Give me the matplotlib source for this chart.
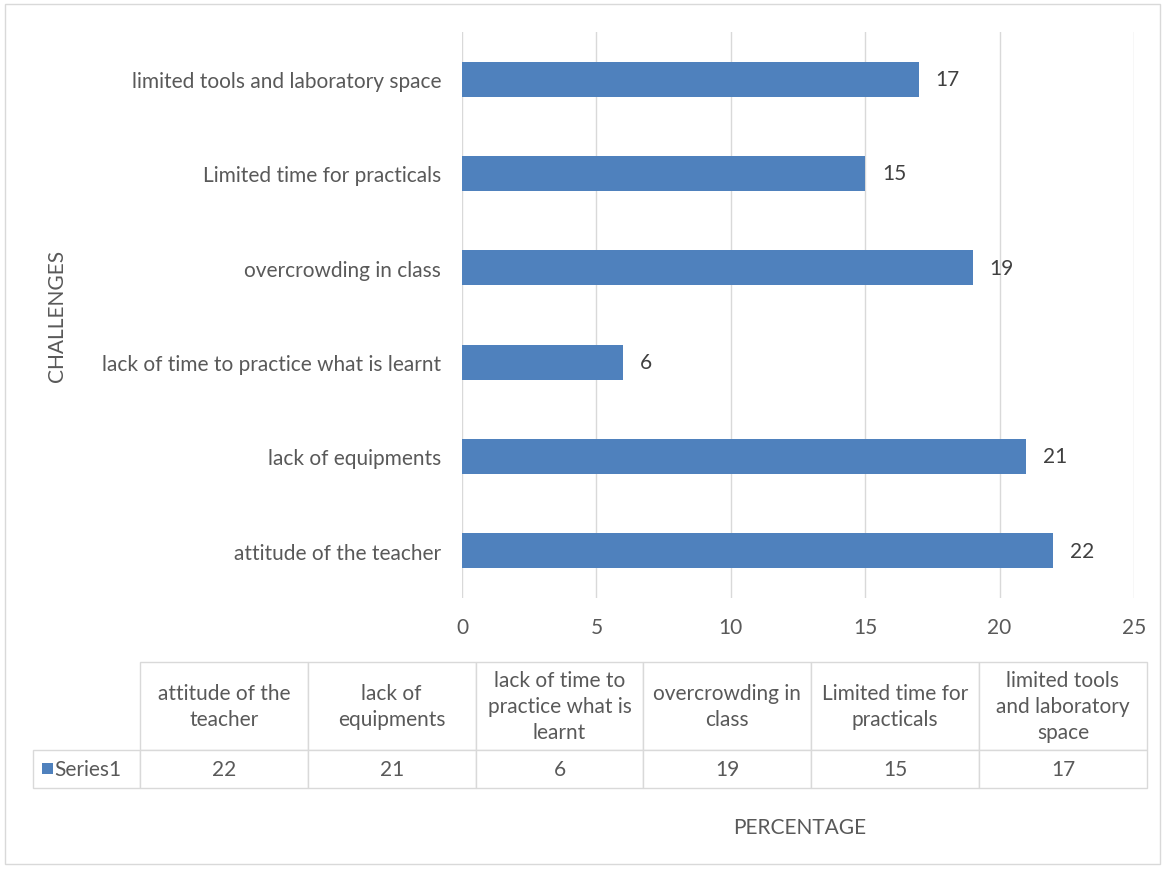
import matplotlib.pyplot as plt
from matplotlib.patches import Rectangle

# data
categories = ["attitude of the teacher", "lack of equipments",
              "lack of time to practice what is learnt", "overcrowding in class",
              "Limited time for practicals", "limited tools and laboratory space"]
table_labels = ["attitude of the\nteacher", "lack of\nequipments",
                "lack of time to\npractice what is\nlearnt", "overcrowding in\nclass",
                "Limited time for\npracticals", "limited tools\nand laboratory\nspace"]
values = [22, 21, 6, 19, 15, 17]
series_name = "Series1"
x_ticks = [0, 5, 10, 15, 20, 25]

BLUE = "#4F81BD"
GRID = "#D9D9D9"
TXT = "#595959"
W, H = 1166, 870
FS = 15

plt.rcParams['font.family'] = ['Lato', 'DejaVu Sans']
fig = plt.figure(figsize=(W / 100, H / 100), dpi=100)

# outer chart border
fig.patches.append(Rectangle((5 / W, 5 / H), 1155 / W, 860 / H, transform=fig.transFigure,
                             fill=False, edgecolor=GRID, linewidth=1))

# main bar plot
ax = fig.add_axes([462 / W, 1 - 599 / H, (1134 - 462) / W, (599 - 33) / H])
ypos = range(len(categories))
bars = ax.barh(ypos, values, height=0.37, color=BLUE, zorder=3)
ax.bar_label(bars, padding=12, fontsize=FS, color="#404040")
ax.set_ylim(-0.5, len(categories) - 0.5)
ax.set_xlim(0, 25)
ax.set_yticks(list(ypos))
ax.set_yticklabels(categories, fontsize=FS, color=TXT)
ax.set_xticks(x_ticks)
ax.set_xticklabels([str(t) for t in x_ticks], fontsize=FS, color=TXT)
ax.tick_params(length=0)
ax.tick_params(axis='y', pad=15)
ax.tick_params(axis='x', pad=14)
ax.grid(axis='x', color=GRID, linewidth=1, zorder=0)
for s in ax.spines.values():
    s.set_visible(False)
ax.set_ylabel("CHALLENGES", fontsize=FS, color=TXT)
ax.yaxis.set_label_coords((67 - 462) / (1134 - 462), 0.5)

# data table below (cell sizes in figure fractions so bbox scale stays ~1)
tax = fig.add_axes([0, 0, 1, 1])
tax.set_axis_off()
tbl = tax.table(cellText=[[str(v) for v in values]], colLabels=table_labels,
                rowLabels=[series_name], cellLoc='center', rowLoc='left',
                bbox=[140 / W, 1 - 789 / H, (1147 - 140) / W, (789 - 663) / H])
tbl.auto_set_font_size(False)
# keep the row-label column at a fixed width
tbl._autoColumns = [c for c in tbl._autoColumns if c != -1]
for (r, c), cell in tbl.get_celld().items():
    cell.set_edgecolor(GRID)
    cell.set_linewidth(1)
    t = cell.get_text()
    t.set_fontsize(FS)
    t.set_color(TXT)
    t.set_linespacing(1.35)
    cell.set_height((88 if r == 0 else 38) / H)
    cell.set_width((107 if c == -1 else 168) / W)
    if c == -1:
        cell.PAD = 0.2

# legend key in the table
fig.patches.append(Rectangle((42 / W, 1 - 775 / H), 11 / W, 11 / H, transform=fig.transFigure,
                             facecolor=BLUE, edgecolor='none'))

fig.text(800 / W, 1 - 828 / H, "PERCENTAGE", fontsize=FS, color=TXT, ha='center', va='center')

fig.savefig("out.png", dpi=100)
